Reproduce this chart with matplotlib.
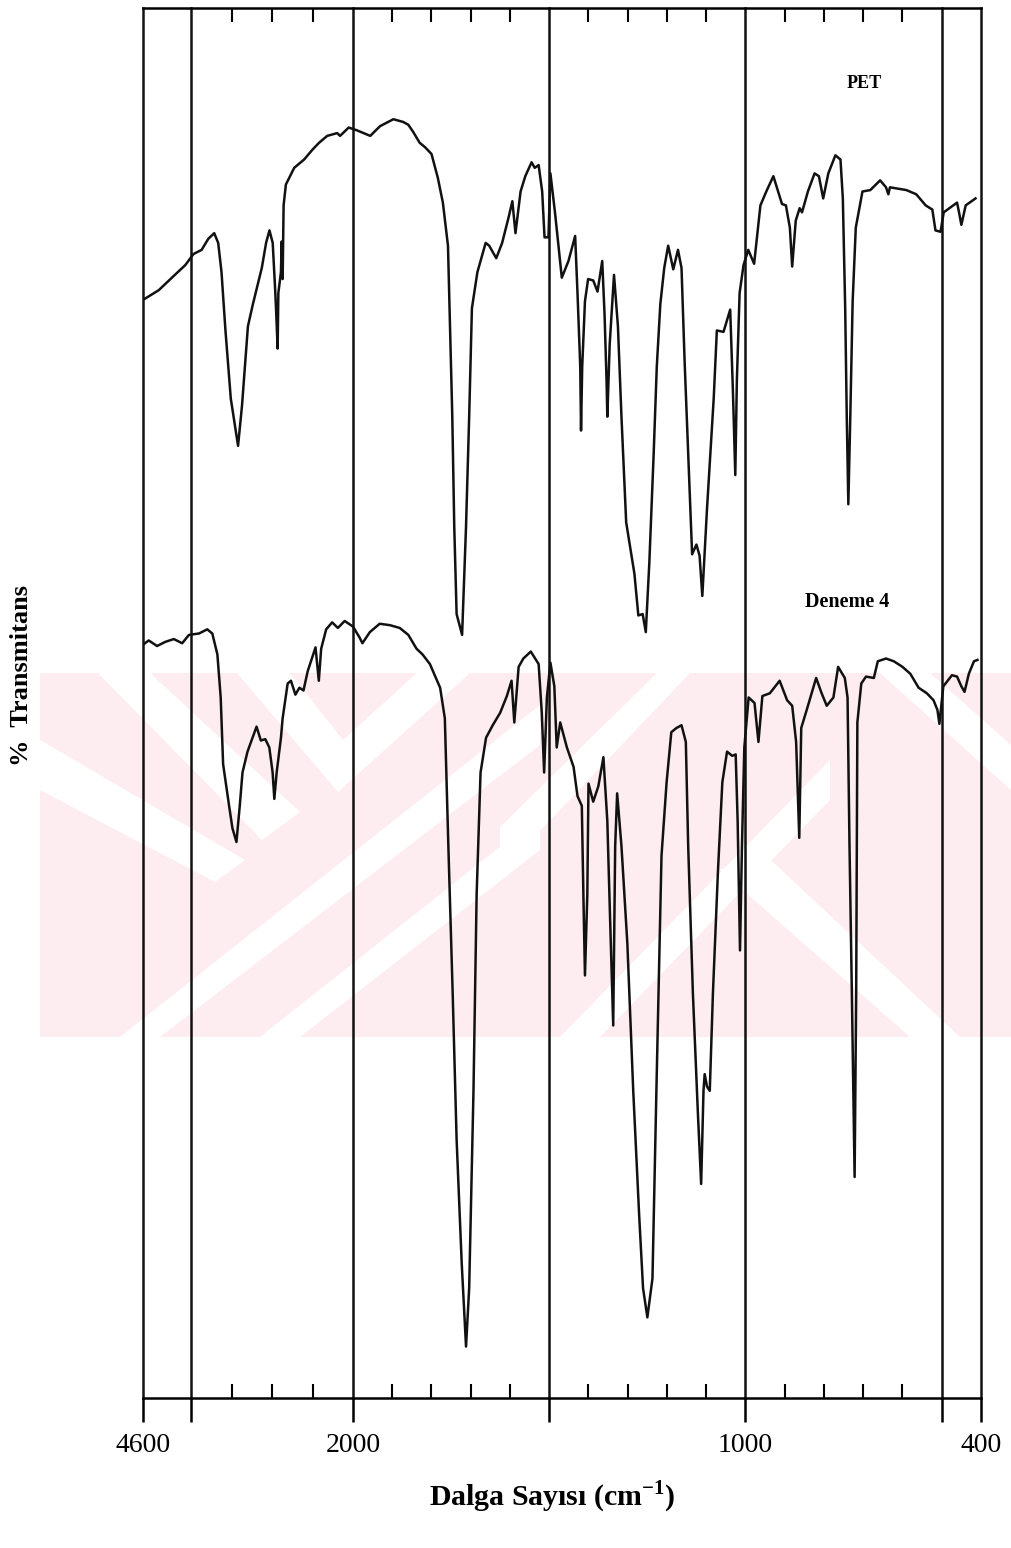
"""
FTIR spectra of PET and Deneme 4 (scanned chart, % transmittance vs wavenumber)
"""
import numpy as np
import matplotlib.pyplot as plt
from matplotlib.patches import Polygon

plt.rcParams['font.family'] = ['Liberation Serif', 'DejaVu Serif']
plt.rcParams['mathtext.fontset'] = 'custom'
plt.rcParams['mathtext.rm'] = 'Liberation Serif'
plt.rcParams['mathtext.bf'] = 'Liberation Serif:bold'

""" ============================ Data ============================ """
# PET spectrum: wavenumber (cm-1) and % transmittance (arbitrary offset)
pet_wn = [4600, 4405, 4242, 4077, 3975, 3874, 3791, 3718, 3669, 3628,
          3579, 3513, 3423, 3374, 3301, 3239, 3129, 3076, 3034, 2994,
          2966, 2953, 2933, 2924, 2892, 2883, 2871, 2859, 2831, 2728,
          2605, 2503, 2421, 2319, 2196, 2160, 2053, 1990, 1956, 1931,
          1897, 1872, 1859, 1847, 1830, 1817, 1800, 1784, 1771, 1758,
          1754, 1747, 1742, 1736, 1722, 1712, 1704, 1697, 1683, 1662,
          1653, 1635, 1620, 1603, 1594, 1586, 1573, 1561, 1545, 1537,
          1527, 1518, 1512, 1502, 1497, 1485, 1468, 1451, 1434, 1428,
          1421, 1419, 1416, 1409, 1401, 1388, 1377, 1365, 1359, 1354,
          1352, 1346, 1335, 1325, 1316, 1304, 1283, 1273, 1262, 1254,
          1245, 1234, 1226, 1217, 1207, 1197, 1184, 1172, 1163, 1155,
          1144, 1136, 1125, 1117, 1110, 1098, 1081, 1073, 1056, 1039,
          1032, 1026, 1022, 1015, 1005, 993, 978, 962, 947, 929,
          907, 897, 887, 881, 872, 862, 856, 841, 824, 813,
          802, 789, 771, 758, 752, 746, 742, 738, 733, 727,
          719, 702, 682, 657, 642, 636, 632, 590, 565, 541,
          524, 516, 503, 495, 461, 456, 450, 439, 414]
pet_t = [79.0, 79.7, 80.6, 81.5, 82.3, 82.6, 83.4, 83.8, 83.1, 81.0,
         76.8, 71.9, 68.5, 71.4, 77.1, 78.7, 81.3, 83.1, 84.0, 83.1,
         80.0, 78.4, 75.5, 79.5, 81.0, 83.2, 80.5, 85.8, 87.3, 88.5,
         89.1, 89.8, 90.3, 90.8, 91.0, 90.8, 91.4, 91.2, 90.8, 91.5,
         92.0, 91.8, 91.6, 91.1, 90.3, 90.0, 89.5, 87.8, 86.0, 82.9,
         78.4, 70.6, 62.7, 56.4, 54.9, 62.7, 70.6, 78.4, 81.0, 83.1,
         82.9, 82.0, 83.1, 85.0, 86.1, 83.8, 86.8, 87.9, 88.9, 88.5,
         88.7, 86.8, 83.5, 83.5, 88.1, 85.2, 80.6, 81.8, 83.6, 79.5,
         74.2, 69.6, 74.2, 78.9, 80.5, 80.4, 79.6, 81.8, 77.9, 73.2,
         70.6, 75.8, 80.8, 77.1, 70.6, 63.0, 59.3, 56.3, 56.4, 55.1,
         60.1, 67.9, 74.2, 78.7, 81.3, 82.9, 81.2, 82.6, 81.3, 74.5,
         66.6, 60.7, 61.4, 60.6, 57.7, 64.0, 71.9, 76.8, 76.7, 78.3,
         72.4, 66.4, 73.2, 79.5, 81.5, 82.6, 81.6, 85.8, 86.8, 87.9,
         85.9, 85.8, 84.2, 81.4, 84.7, 85.6, 85.3, 86.8, 88.1, 87.9,
         86.3, 88.1, 89.4, 89.1, 86.3, 78.4, 70.6, 64.3, 70.6, 78.9,
         84.2, 86.8, 86.9, 87.6, 87.1, 86.6, 87.1, 86.9, 86.6, 85.8,
         85.5, 84.0, 83.9, 85.3, 86.0, 85.3, 84.4, 85.8, 86.3]

# Deneme 4 spectrum
den_wn = [4600, 4529, 4426, 4323, 4218, 4115, 4031, 3907, 3804, 3742,
          3679, 3638, 3608, 3534, 3493, 3443, 3402, 3368, 3306, 3194,
          3141, 3086, 3036, 2995, 2974, 2945, 2892, 2871, 2809, 2768,
          2713, 2663, 2613, 2560, 2464, 2423, 2394, 2332, 2258, 2187,
          2103, 2000, 1983, 1976, 1957, 1932, 1906, 1881, 1859, 1838,
          1823, 1804, 1778, 1766, 1757, 1746, 1736, 1723, 1712, 1704,
          1693, 1685, 1675, 1661, 1644, 1625, 1608, 1596, 1589, 1578,
          1566, 1547, 1527, 1519, 1513, 1506, 1497, 1487, 1481, 1472,
          1455, 1438, 1428, 1417, 1413, 1409, 1403, 1400, 1388, 1375,
          1362, 1352, 1345, 1337, 1332, 1327, 1316, 1301, 1286, 1271,
          1261, 1250, 1237, 1227, 1214, 1201, 1189, 1176, 1163, 1152,
          1146, 1134, 1121, 1113, 1107, 1104, 1098, 1091, 1083, 1070,
          1059, 1047, 1034, 1025, 1020, 1014, 1009, 1003, 992, 977,
          967, 957, 938, 913, 894, 881, 871, 863, 858, 843,
          820, 806, 793, 776, 764, 747, 740, 735, 729, 722,
          718, 715, 705, 693, 673, 663, 642, 622, 600, 580,
          559, 538, 521, 511, 506, 496, 474, 461, 450, 442,
          431, 418, 409]
den_t = [54.2, 54.5, 54.1, 54.4, 54.6, 54.3, 54.9, 55.0, 55.3, 55.0,
         53.5, 50.4, 45.6, 42.6, 41.0, 40.0, 42.6, 45.0, 46.5, 48.3,
         47.3, 47.4, 46.8, 45.0, 43.1, 45.0, 47.5, 48.9, 51.4, 51.6,
         50.6, 51.1, 50.9, 52.3, 54.0, 51.6, 53.9, 55.3, 55.8, 55.4,
         55.9, 55.5, 54.7, 54.3, 55.1, 55.7, 55.6, 55.4, 54.9, 53.9,
         53.5, 52.8, 51.1, 48.9, 39.7, 29.1, 18.6, 9.7, 3.7, 7.9,
         22.1, 36.2, 45.0, 47.5, 48.4, 49.3, 50.5, 51.6, 48.6, 52.6,
         53.2, 53.7, 52.8, 49.3, 45.0, 50.4, 52.9, 51.2, 46.8, 48.6,
         46.8, 45.4, 43.3, 42.6, 36.2, 30.4, 36.2, 44.2, 42.9, 44.0,
         46.1, 41.5, 34.5, 26.8, 39.7, 43.5, 39.7, 32.7, 22.1, 13.2,
         7.9, 5.8, 8.6, 22.1, 39.0, 44.3, 47.9, 48.2, 48.4, 47.2,
         39.7, 29.1, 20.3, 15.4, 22.1, 23.3, 22.4, 22.1, 29.1, 38.0,
         44.3, 46.5, 46.2, 46.3, 41.5, 32.2, 39.7, 46.8, 50.4, 50.0,
         47.2, 50.5, 50.7, 51.6, 50.2, 49.8, 47.2, 40.3, 48.2, 49.6,
         51.8, 50.7, 49.8, 50.4, 52.6, 51.8, 50.4, 39.7, 29.1, 15.9,
         29.1, 48.6, 51.4, 51.9, 51.8, 53.0, 53.2, 53.0, 52.6, 52.1,
         51.1, 50.7, 50.2, 49.5, 48.5, 51.2, 52.0, 51.9, 51.2, 50.8,
         52.1, 53.0, 53.1]

grid_wn = [4600, 4000, 2000, 1500, 1000, 500, 400]
grid_labels = ['4600', '', '2000', '', '1000', '', '400']
minor_wn = [3500, 3000, 2500, 1900, 1800, 1700, 1600,
            1400, 1300, 1200, 1100, 900, 800, 700, 600]

""" ==================== Split (compressed) x scale ==================== """
ratio = 4.86  # above 2000 cm-1 the chart is compressed


def fwd(x):
    x = np.asarray(x, dtype=float)
    return np.where(x > 2000, 2000 + (x - 2000) / ratio, x)


def inv(y):
    y = np.asarray(y, dtype=float)
    return np.where(y > 2000, 2000 + (y - 2000) * ratio, y)


""" ============================ Figure ============================ """
W, H = 1011, 1548
fig = plt.figure(figsize=(W / 100, H / 100), dpi=100)


def fxy(x, y):
    # pixel position (from top-left) -> figure fraction
    return (x / W, 1 - y / H)


# faint pink watermark behind the chart
pink = '#fdedf0'
wm_base = [(40, 673), (1011, 673), (1011, 1037), (40, 1037)]
wm_white = [
    [(98, 673), (150, 673), (300, 812), (262, 840)],
    [(237, 673), (290, 673), (343, 740), (417, 673), (470, 673), (338, 792)],
    [(40, 740), (40, 790), (215, 882), (245, 860)],
    [(120, 1037), (160, 1037), (540, 745), (540, 705)],
    [(260, 1037), (300, 1037), (540, 850), (540, 815)],
    [(500, 827), (657, 673), (690, 673), (500, 873)],
    [(560, 1037), (600, 1037), (830, 800), (830, 760)],
    [(720, 870), (760, 850), (960, 1037), (910, 1037)],
    [(880, 673), (930, 673), (1011, 745), (1011, 790)],
]
fig.add_artist(Polygon([fxy(*p) for p in wm_base], closed=True,
                       transform=fig.transFigure, facecolor=pink,
                       edgecolor='none', zorder=-2))
for poly in wm_white:
    fig.add_artist(Polygon([fxy(*p) for p in poly], closed=True,
                           transform=fig.transFigure, facecolor='white',
                           edgecolor='none', zorder=-1))

ax = fig.add_axes([143 / W, 1 - 1398 / H, (981 - 143) / W, (1398 - 8) / H])
ax.patch.set_alpha(0)
ax.set_xscale('function', functions=(fwd, inv))
ax.set_xlim(4600, 400)
ax.set_ylim(0, 100)

ax.plot(pet_wn, pet_t, color='#111111', lw=1.8, zorder=3)
ax.plot(den_wn, den_t, color='#111111', lw=1.8, zorder=3)

for w in grid_wn:
    ax.axvline(w, color='#111111', lw=1.8, clip_on=False, zorder=2)

ax.set_xticks(grid_wn)
ax.set_xticklabels(grid_labels)
ax.set_xticks(minor_wn, minor=True)
ax.tick_params(axis='x', which='major', direction='out', length=17,
               width=1.8, bottom=True, top=False, labelsize=20, pad=8)
ax.tick_params(axis='x', which='minor', direction='in', length=10,
               width=1.5, bottom=True, top=True)
ax.set_yticks([])
for s in ['left', 'right']:
    ax.spines[s].set_visible(False)
for s in ['top', 'bottom']:
    ax.spines[s].set_linewidth(1.8)

ax.text(698, 94.6, 'PET', ha='center', va='center', fontsize=13,
        fontweight='bold')
ax.text(742, 57.3, 'Deneme 4', ha='center', va='center', fontsize=14.5,
        fontweight='bold')

fig.text(22 / W, 1 - 675 / H, '%  Transmitans', rotation=90, ha='center',
         va='center', fontsize=19, fontweight='bold')
fig.text(552 / W, 1 - 1497 / H, r'Dalga Sayısı (cm$^{\mathbf{-1}}$)',
         ha='center', va='center', fontsize=21.5, fontweight='bold')

fig.savefig('out.png', dpi=100)
